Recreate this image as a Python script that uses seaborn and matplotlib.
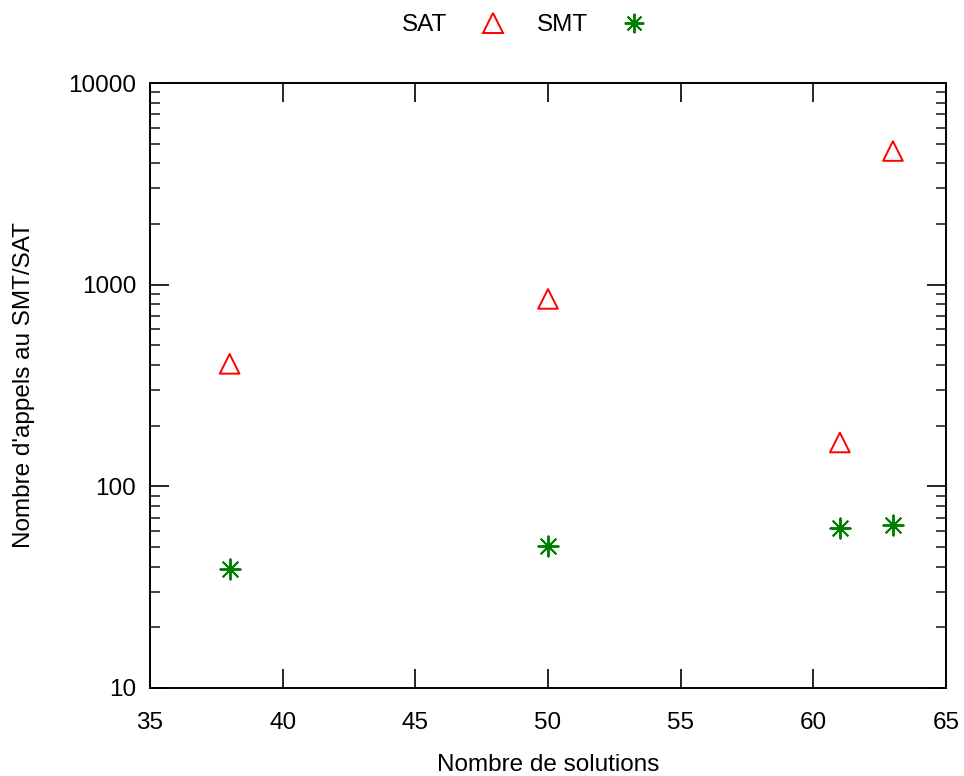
import matplotlib
matplotlib.use("Agg")
import matplotlib.pyplot as plt
import seaborn as sns
import pandas as pd
from matplotlib.lines import Line2D
from matplotlib.ticker import LogLocator, FixedLocator, NullLocator, FixedFormatter

sns.set_style("white")
plt.rcParams['font.family'] = ['Liberation Sans', 'DejaVu Sans']
plt.rcParams['text.color'] = 'black'
plt.rcParams['axes.labelcolor'] = 'black'

solutions = [38, 50, 61, 63]
sat_calls = [405, 850, 165, 4600]
smt_calls = [39, 50.5, 62, 64.5]
series_names = ["SAT", "SMT"]
x_ticks = [35, 40, 45, 50, 55, 60, 65]
y_ticks = [10, 100, 1000, 10000]
y_tick_labels = ["10", "100", "1000", "10000"]

df_sat = pd.DataFrame({"x": solutions, "y": sat_calls})
df_smt = pd.DataFrame({"x": solutions, "y": smt_calls})

fig = plt.figure(figsize=(9.64, 7.76), dpi=100)
ax = fig.add_axes([150/964, 1-688/776, (946-150)/964, (688-83)/776])

star = (8, 2, 0)
sns.scatterplot(data=df_sat, x="x", y="y", ax=ax, marker="^", s=200,
                facecolors="none", edgecolor="#ff0000", linewidth=1.4, legend=False)
sns.scatterplot(data=df_smt, x="x", y="y", ax=ax, marker=star, s=210,
                color="#008000", linewidth=1.4, legend=False)

ax.set_yscale("log")
ax.set_xlim(35, 65)
ax.set_ylim(10, 10000)
ax.xaxis.set_major_locator(FixedLocator(x_ticks))
ax.xaxis.set_minor_locator(NullLocator())
ax.yaxis.set_major_locator(FixedLocator(y_ticks))
ax.yaxis.set_major_formatter(FixedFormatter(y_tick_labels))
ax.yaxis.set_minor_locator(LogLocator(base=10, subs=range(2, 10)))
ax.yaxis.set_minor_formatter(plt.NullFormatter())

ax.tick_params(axis="both", which="major", direction="in", length=14, width=1.2,
               top=True, right=True, bottom=True, left=True,
               labelsize=17.5, colors="black")
ax.tick_params(axis="x", which="major", pad=17)
ax.tick_params(axis="y", which="major", pad=10)
ax.tick_params(axis="both", which="minor", direction="in", length=7, width=1.2,
               top=True, right=True, bottom=True, left=True)
for sp in ax.spines.values():
    sp.set_linewidth(1.4)
    sp.set_color("black")

ax.set_xlabel("Nombre de solutions", fontsize=17.5, labelpad=15, color="black")
ax.set_ylabel("Nombre d'appels au SMT/SAT", fontsize=17.5, labelpad=24, color="black")

handles = [
    Line2D([], [], linestyle="", marker="^", markersize=14, markerfacecolor="none",
           markeredgecolor="#ff0000", markeredgewidth=1.4),
    Line2D([], [], linestyle="", marker=star, markersize=14, color="#008000",
           markeredgewidth=1.4),
]
fig.legend(handles, series_names, loc="center", bbox_to_anchor=(529/964, 1-25/776),
           ncol=2, frameon=False, markerfirst=False, fontsize=17.5,
           columnspacing=0.9, handletextpad=1.0, handlelength=1.8)

fig.savefig("out.png", dpi=100)
